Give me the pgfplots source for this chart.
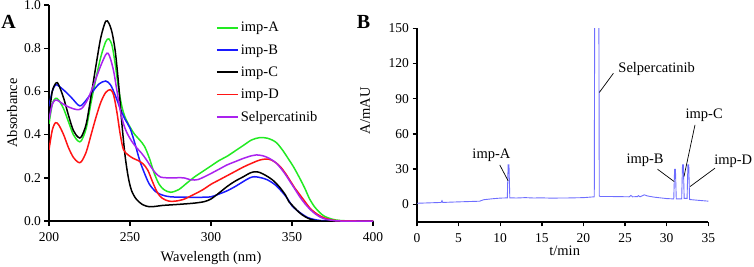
\documentclass[border=0pt]{standalone}
\usepackage{pgfplots}
\pgfplotsset{compat=1.18}
\usepackage{fontspec}
\setmainfont{Liberation Serif}
\definecolor{cgreen}{RGB}{34,234,34}
\definecolor{cblue}{RGB}{26,26,255}
\definecolor{cred}{RGB}{255,20,20}
\definecolor{cpurple}{RGB}{170,34,238}
\definecolor{cchrom}{RGB}{110,110,255}
\pgfplotsset{
  gpstyle/.style={
    scale only axis,
    axis x line*=bottom, axis y line*=left,
    axis line style={line width=1.6pt,-},
    tick align=outside,
    major tick length=4.5pt,
    every tick/.style={line width=1.4pt,black},
    tick label style={font=\rmfamily\fontsize{13.5}{15}\selectfont},
    xticklabel style={yshift=-3.5pt},
    label style={font=\rmfamily\fontsize{14.5}{16}\selectfont},
    /pgf/number format/assume math mode=true,
    minor tick num=0,
  }
}
\begin{document}
\begin{tikzpicture}
\useasboundingbox (0,0) rectangle (754pt,266pt);
% Panel A
\begin{axis}[gpstyle,
  at={(49pt,45pt)}, anchor=south west,
  width=324pt, height=216pt,
  xmin=200, xmax=400, ymin=0, ymax=1,
  xtick={200,250,300,350,400},
  ytick={0,0.2,0.4,0.6,0.8,1.0},
  yticklabel style={/pgf/number format/.cd,fixed,fixed zerofill,precision=1},
  xlabel={Wavelength (nm)}, ylabel={Absorbance},
  xlabel style={at={(axis description cs:0.5,-0.172)},anchor=center},
  ylabel style={at={(axis description cs:-0.114,0.5)},anchor=center},
  legend style={draw=none,fill=none,at={(0.515,0.931)},anchor=north west,
    font=\rmfamily\fontsize{14.5}{16}\selectfont, row sep=7.2pt, inner sep=0pt},
  legend cell align=left,
  legend image code/.code={\draw[#1,line width=1.8pt] (0pt,0pt) -- (21pt,0pt);},
  every axis plot/.append style={line width=1.5pt, smooth, tension=0.5},
]
\addplot[cgreen] coordinates {
(200,0.45)(202,0.54)(204,0.568)(206,0.56)(209,0.52)(212,0.46)(215,0.40)(218,0.37)(220,0.372)(223,0.43)(226,0.55)(229,0.66)(232,0.76)(235,0.83)(237,0.843)(239,0.81)(241,0.72)(243,0.61)(245,0.53)(247,0.48)(250,0.435)(253,0.40)(256,0.375)(259,0.345)(262,0.29)(265,0.22)(268,0.17)(271,0.145)(275,0.133)(280,0.145)(285,0.175)(290,0.205)(295,0.23)(300,0.255)(305,0.28)(310,0.30)(315,0.325)(320,0.35)(325,0.375)(330,0.386)(335,0.383)(340,0.365)(344,0.33)(348,0.285)(351,0.25)(355,0.195)(358,0.15)(361,0.10)(364,0.065)(367,0.04)(370,0.022)(375,0.008)(380,0.002)(390,0)(400,0)};
\addlegendentry{imp-A}
\addplot[cblue] coordinates {
(200,0.53)(202,0.60)(204,0.63)(206,0.625)(210,0.60)(214,0.57)(218,0.537)(220,0.535)(223,0.56)(227,0.60)(231,0.635)(235,0.648)(238,0.63)(241,0.58)(244,0.52)(247,0.47)(250,0.43)(253,0.36)(256,0.28)(259,0.22)(262,0.17)(266,0.135)(270,0.12)(275,0.112)(285,0.11)(295,0.11)(300,0.112)(305,0.125)(310,0.14)(315,0.16)(320,0.183)(324,0.2)(327,0.205)(331,0.2)(335,0.19)(340,0.165)(345,0.125)(348,0.095)(350,0.07)(353,0.05)(356,0.033)(360,0.015)(365,0.005)(370,0.001)(380,0)(400,0)};
\addlegendentry{imp-B}
\addplot[black] coordinates {
(200,0.48)(202,0.60)(204.5,0.64)(206,0.63)(209,0.57)(212,0.49)(215,0.42)(218,0.388)(220,0.39)(223,0.45)(226,0.58)(229,0.72)(232,0.85)(235,0.925)(237,0.915)(239,0.87)(241,0.78)(243,0.63)(245,0.45)(247,0.3)(249,0.2)(251,0.14)(254,0.1)(258,0.075)(262,0.066)(266,0.068)(270,0.072)(280,0.077)(290,0.083)(296,0.09)(300,0.102)(305,0.13)(310,0.16)(315,0.185)(320,0.205)(324,0.222)(327,0.228)(330,0.225)(334,0.21)(338,0.19)(342,0.16)(346,0.12)(348,0.09)(350,0.074)(353,0.05)(356,0.03)(360,0.012)(364,0.003)(368,0)(400,0)};
\addlegendentry{imp-C}
\addplot[cred] coordinates {
(200,0.33)(202,0.42)(204,0.455)(206,0.445)(209,0.40)(212,0.34)(215,0.295)(218,0.272)(220,0.275)(223,0.32)(226,0.40)(229,0.48)(232,0.55)(235,0.595)(238,0.608)(240,0.58)(242,0.50)(244,0.40)(246,0.33)(249,0.305)(252,0.29)(255,0.28)(258,0.265)(261,0.235)(264,0.18)(267,0.13)(270,0.105)(274,0.092)(278,0.092)(283,0.1)(290,0.125)(295,0.145)(300,0.17)(305,0.19)(310,0.21)(315,0.23)(320,0.25)(325,0.267)(330,0.282)(334,0.287)(337,0.283)(340,0.27)(343,0.25)(346,0.22)(349,0.185)(352,0.15)(355,0.12)(358,0.09)(361,0.06)(364,0.04)(367,0.025)(370,0.014)(375,0.004)(380,0.001)(390,0)(400,0)};
\addlegendentry{imp-D}
\addplot[cpurple] coordinates {
(200,0.47)(202,0.54)(204,0.56)(206,0.555)(209,0.54)(213,0.525)(217,0.516)(220,0.52)(223,0.55)(226,0.6)(229,0.66)(232,0.72)(235,0.77)(236.5,0.776)(238,0.75)(240,0.69)(242,0.6)(244,0.51)(246,0.45)(248,0.41)(251,0.37)(254,0.34)(257,0.315)(260,0.285)(263,0.25)(266,0.22)(269,0.203)(273,0.2)(278,0.2)(283,0.2)(288,0.19)(292,0.192)(296,0.205)(300,0.22)(305,0.24)(310,0.26)(315,0.275)(320,0.29)(325,0.302)(328,0.306)(332,0.302)(336,0.29)(340,0.27)(343,0.245)(346,0.215)(349,0.18)(352,0.145)(355,0.11)(358,0.08)(361,0.055)(364,0.035)(367,0.02)(370,0.01)(375,0.003)(380,0)(400,0)};
\addlegendentry{Selpercatinib}
\end{axis}
\node[font=\rmfamily\bfseries\fontsize{20}{22}\selectfont] at (8.5pt,244pt) {A};
\node[font=\rmfamily\bfseries\fontsize{20}{22}\selectfont] at (363.5pt,244.3pt) {B};
% Panel B
\begin{axis}[gpstyle,
  at={(417pt,44.2pt)}, anchor=south west,
  width=291.3pt, height=193.6pt,
  xmin=0, xmax=35, ymin=-15, ymax=150,
  xtick={0,5,...,35}, ytick={0,30,60,90,120,150},
  xlabel={t/min}, ylabel={A/mAU},
  xlabel style={at={(axis description cs:0.507,-0.149)},anchor=center},
  ylabel style={at={(axis description cs:-0.178,0.573)},anchor=center},
  clip mode=individual,
]
\addplot[cchrom, line width=0.9pt] coordinates {
(0,0.8)(2.9,1.5)(3.0,3)(3.1,1.5)(5,2)(7.3,2.5)(7.5,2.5)(8,3.8)(9,4.6)(10,5.2)(10.85,5.4)(10.95,33.5)(11.05,33.5)(11.15,5.4)(12,5.3)(13,5.6)(14,5.3)(15,5.4)(16,5.2)(18,5.3)(20,5.6)(21.3,6.3)(21.45,500)(21.75,500)(21.9,7)(22,6.6)(24,6.5)(25.5,6.3)(25.7,7.5)(25.9,6.3)(26.5,6.5)(26.6,7.3)(26.8,6.3)(27.3,8)(27.7,7)(28.5,6)(30,4.8)(30.85,4.5)(30.95,29.8)(31.05,29.8)(31.15,4.5)(31.8,4.5)(31.9,33.5)(32.0,33.5)(32.1,5)(32.45,5)(32.55,33.5)(32.65,33.5)(32.75,4)(33.5,3.5)(35,2.6)};
\draw[black, line width=0.7pt] (axis cs:9.94,33.5) -- (axis cs:10.95,19.9);
\node[font=\rmfamily\fontsize{14.5}{16}\selectfont] at (axis cs:8.94,42) {imp-A};
\draw[black, line width=0.7pt] (axis cs:23.6,111.6) -- (axis cs:21.9,95.2);
\node[font=\rmfamily\fontsize{14.5}{16}\selectfont] at (axis cs:28.8,115.3) {Selpercatinib};
\draw[black, line width=0.7pt] (axis cs:28.9,29.8) -- (axis cs:30.9,19.3);
\node[font=\rmfamily\fontsize{14.5}{16}\selectfont] at (axis cs:27.4,37.2) {imp-B};
\draw[black, line width=0.7pt] (axis cs:33.4,67.6) -- (axis cs:32.08,23.6);
\node[font=\rmfamily\fontsize{14.5}{16}\selectfont] at (axis cs:34.5,76) {imp-C};
\draw[black, line width=0.7pt] (axis cs:35.8,30.7) -- (axis cs:32.8,15);
\node[font=\rmfamily\fontsize{14.5}{16}\selectfont] at (axis cs:38.0,37) {imp-D};
\end{axis}
\end{tikzpicture}
\end{document}
